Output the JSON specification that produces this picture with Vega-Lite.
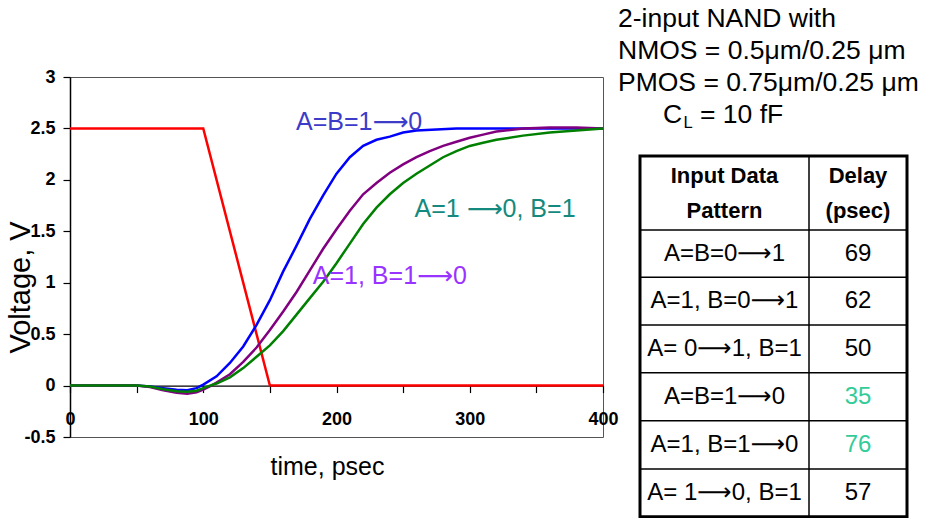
{
  "$schema": "https://vega.github.io/schema/vega-lite/v6.json",
  "width": 533,
  "height": 360,
  "autosize": {"type": "none"},
  "padding": {"left": 70, "top": 77, "right": 323, "bottom": 81},
  "background": "white",
  "config": {
    "font": "Liberation Sans",
    "view": {"stroke": "#555555", "strokeWidth": 1}
  },
  "datasets": {
    "curves": [
      {"s": "input", "t": 0, "v": 2.5}, {"s": "input", "t": 100, "v": 2.5}, {"s": "input", "t": 150, "v": 0}, {"s": "input", "t": 400, "v": 0},
      {"s": "A=B=1→0", "t": 0, "v": 0}, {"s": "A=B=1→0", "t": 50, "v": 0}, {"s": "A=B=1→0", "t": 60, "v": -0.01}, {"s": "A=B=1→0", "t": 70, "v": -0.025}, {"s": "A=B=1→0", "t": 80, "v": -0.04}, {"s": "A=B=1→0", "t": 88, "v": -0.045}, {"s": "A=B=1→0", "t": 95, "v": -0.025}, {"s": "A=B=1→0", "t": 100, "v": 0.01}, {"s": "A=B=1→0", "t": 110, "v": 0.09}, {"s": "A=B=1→0", "t": 120, "v": 0.22}, {"s": "A=B=1→0", "t": 130, "v": 0.38}, {"s": "A=B=1→0", "t": 140, "v": 0.59}, {"s": "A=B=1→0", "t": 150, "v": 0.83}, {"s": "A=B=1→0", "t": 160, "v": 1.11}, {"s": "A=B=1→0", "t": 170, "v": 1.36}, {"s": "A=B=1→0", "t": 180, "v": 1.62}, {"s": "A=B=1→0", "t": 190, "v": 1.85}, {"s": "A=B=1→0", "t": 200, "v": 2.06}, {"s": "A=B=1→0", "t": 210, "v": 2.22}, {"s": "A=B=1→0", "t": 220, "v": 2.33}, {"s": "A=B=1→0", "t": 230, "v": 2.39}, {"s": "A=B=1→0", "t": 240, "v": 2.42}, {"s": "A=B=1→0", "t": 250, "v": 2.46}, {"s": "A=B=1→0", "t": 260, "v": 2.48}, {"s": "A=B=1→0", "t": 275, "v": 2.49}, {"s": "A=B=1→0", "t": 290, "v": 2.5}, {"s": "A=B=1→0", "t": 400, "v": 2.5},
      {"s": "A=1, B=1→0", "t": 0, "v": 0}, {"s": "A=1, B=1→0", "t": 50, "v": 0}, {"s": "A=1, B=1→0", "t": 60, "v": -0.015}, {"s": "A=1, B=1→0", "t": 70, "v": -0.045}, {"s": "A=1, B=1→0", "t": 80, "v": -0.07}, {"s": "A=1, B=1→0", "t": 88, "v": -0.08}, {"s": "A=1, B=1→0", "t": 95, "v": -0.065}, {"s": "A=1, B=1→0", "t": 100, "v": -0.04}, {"s": "A=1, B=1→0", "t": 106, "v": 0}, {"s": "A=1, B=1→0", "t": 110, "v": 0.03}, {"s": "A=1, B=1→0", "t": 120, "v": 0.11}, {"s": "A=1, B=1→0", "t": 130, "v": 0.23}, {"s": "A=1, B=1→0", "t": 140, "v": 0.37}, {"s": "A=1, B=1→0", "t": 150, "v": 0.54}, {"s": "A=1, B=1→0", "t": 160, "v": 0.72}, {"s": "A=1, B=1→0", "t": 170, "v": 0.91}, {"s": "A=1, B=1→0", "t": 180, "v": 1.12}, {"s": "A=1, B=1→0", "t": 190, "v": 1.33}, {"s": "A=1, B=1→0", "t": 200, "v": 1.52}, {"s": "A=1, B=1→0", "t": 210, "v": 1.7}, {"s": "A=1, B=1→0", "t": 220, "v": 1.86}, {"s": "A=1, B=1→0", "t": 230, "v": 1.97}, {"s": "A=1, B=1→0", "t": 240, "v": 2.07}, {"s": "A=1, B=1→0", "t": 250, "v": 2.15}, {"s": "A=1, B=1→0", "t": 260, "v": 2.22}, {"s": "A=1, B=1→0", "t": 270, "v": 2.28}, {"s": "A=1, B=1→0", "t": 280, "v": 2.33}, {"s": "A=1, B=1→0", "t": 290, "v": 2.37}, {"s": "A=1, B=1→0", "t": 300, "v": 2.41}, {"s": "A=1, B=1→0", "t": 310, "v": 2.44}, {"s": "A=1, B=1→0", "t": 320, "v": 2.47}, {"s": "A=1, B=1→0", "t": 340, "v": 2.5}, {"s": "A=1, B=1→0", "t": 360, "v": 2.51}, {"s": "A=1, B=1→0", "t": 380, "v": 2.51}, {"s": "A=1, B=1→0", "t": 400, "v": 2.5},
      {"s": "A=1→0, B=1", "t": 0, "v": 0}, {"s": "A=1→0, B=1", "t": 50, "v": 0}, {"s": "A=1→0, B=1", "t": 60, "v": -0.01}, {"s": "A=1→0, B=1", "t": 70, "v": -0.035}, {"s": "A=1→0, B=1", "t": 80, "v": -0.055}, {"s": "A=1→0, B=1", "t": 88, "v": -0.06}, {"s": "A=1→0, B=1", "t": 95, "v": -0.05}, {"s": "A=1→0, B=1", "t": 100, "v": -0.025}, {"s": "A=1→0, B=1", "t": 105, "v": 0}, {"s": "A=1→0, B=1", "t": 110, "v": 0.02}, {"s": "A=1→0, B=1", "t": 120, "v": 0.08}, {"s": "A=1→0, B=1", "t": 130, "v": 0.17}, {"s": "A=1→0, B=1", "t": 140, "v": 0.28}, {"s": "A=1→0, B=1", "t": 150, "v": 0.39}, {"s": "A=1→0, B=1", "t": 160, "v": 0.53}, {"s": "A=1→0, B=1", "t": 170, "v": 0.69}, {"s": "A=1→0, B=1", "t": 180, "v": 0.85}, {"s": "A=1→0, B=1", "t": 190, "v": 1.01}, {"s": "A=1→0, B=1", "t": 200, "v": 1.19}, {"s": "A=1→0, B=1", "t": 210, "v": 1.38}, {"s": "A=1→0, B=1", "t": 220, "v": 1.57}, {"s": "A=1→0, B=1", "t": 230, "v": 1.73}, {"s": "A=1→0, B=1", "t": 240, "v": 1.86}, {"s": "A=1→0, B=1", "t": 250, "v": 1.97}, {"s": "A=1→0, B=1", "t": 260, "v": 2.06}, {"s": "A=1→0, B=1", "t": 270, "v": 2.14}, {"s": "A=1→0, B=1", "t": 280, "v": 2.22}, {"s": "A=1→0, B=1", "t": 290, "v": 2.28}, {"s": "A=1→0, B=1", "t": 300, "v": 2.33}, {"s": "A=1→0, B=1", "t": 310, "v": 2.36}, {"s": "A=1→0, B=1", "t": 320, "v": 2.39}, {"s": "A=1→0, B=1", "t": 340, "v": 2.43}, {"s": "A=1→0, B=1", "t": 360, "v": 2.46}, {"s": "A=1→0, B=1", "t": 380, "v": 2.48}, {"s": "A=1→0, B=1", "t": 400, "v": 2.5}
    ],
    "labels": [
      {"lbl": "A=B=1⟶0", "t": 217, "v": 2.56},
      {"lbl": "A=1 ⟶0, B=1", "t": 319, "v": 1.72},
      {"lbl": "A=1, B=1⟶0", "t": 240, "v": 1.07}
    ],
    "tableRows": [
      {"row": 1, "pattern": "A=B=0⟶1", "delay": "69", "hl": "no"},
      {"row": 2, "pattern": "A=1, B=0⟶1", "delay": "62", "hl": "no"},
      {"row": 3, "pattern": "A= 0⟶1, B=1", "delay": "50", "hl": "no"},
      {"row": 4, "pattern": "A=B=1⟶0", "delay": "35", "hl": "yes"},
      {"row": 5, "pattern": "A=1, B=1⟶0", "delay": "76", "hl": "yes"},
      {"row": 6, "pattern": "A= 1⟶0, B=1", "delay": "57", "hl": "no"}
    ],
    "rowBounds": [{"b": 0.5}, {"b": 1.5}, {"b": 2.5}, {"b": 3.5}, {"b": 4.5}, {"b": 5.5}],
    "header": [{"p": "Input Data\nPattern", "d": "Delay\n(psec)"}],
    "titleLines": [
      {"line": 0, "txt": "2-input NAND with"},
      {"line": 1, "txt": "NMOS = 0.5μm/0.25 μm"},
      {"line": 2, "txt": "PMOS = 0.75μm/0.25 μm"}
    ],
    "capLine": [{"line": 3, "c": "C", "sub": "L", "rest": "= 10 fF"}]
  },
  "layer": [
    {
      "layer": [
        {
          "data": {"name": "curves"},
          "mark": {"type": "line", "strokeWidth": 2.5, "interpolate": "linear"},
          "encoding": {
            "x": {
              "field": "t", "type": "quantitative",
              "scale": {"domain": [0, 400], "nice": false, "zero": false},
              "axis": {
                "values": [0, 50, 100, 150, 200, 250, 300, 350, 400],
                "labelExpr": "datum.value % 100 === 0 ? toString(datum.value) : ''",
                "offset": -51.43,
                "grid": false,
                "domainColor": "black", "domainWidth": 1.2,
                "tickColor": "black", "tickSize": 7, "tickWidth": 1.2,
                "labelFontWeight": "bold", "labelFontSize": 18, "labelColor": "black",
                "labelPadding": 18, "labelFlush": false, "labelOverlap": false, "labelBound": false,
                "title": "time, psec", "titleFontSize": 25, "titleFontWeight": "normal", "titleColor": "black",
                "titleX": 257, "titleY": 89, "titleBaseline": "alphabetic", "titleAlign": "center"
              }
            },
            "y": {
              "field": "v", "type": "quantitative",
              "scale": {"domain": [-0.5, 3], "nice": false, "zero": false},
              "axis": {
                "values": [-0.5, 0, 0.5, 1, 1.5, 2, 2.5, 3],
                "labelExpr": "toString(datum.value)",
                "grid": false,
                "domainColor": "black", "domainWidth": 1.5,
                "tickColor": "black", "tickSize": 7, "tickWidth": 1.2,
                "labelFontWeight": "bold", "labelFontSize": 18, "labelColor": "black",
                "labelPadding": 8, "labelOverlap": false, "labelBound": false,
                "title": "Voltage, V", "titleFontSize": 29, "titleFontWeight": "normal", "titleColor": "black",
                "titleAngle": 270, "titleX": -41, "titleY": 210, "titleBaseline": "alphabetic", "titleAlign": "center"
              }
            },
            "color": {
              "field": "s", "type": "nominal", "legend": null,
              "scale": {"domain": ["A=B=1→0", "A=1, B=1→0", "A=1→0, B=1", "input"], "range": ["#0000ff", "#800080", "#008000", "#ff0000"]}
            }
          }
        },
        {
          "data": {"name": "labels"},
          "mark": {"type": "text", "font": "Liberation Sans, DejaVu Sans", "fontSize": 25, "align": "center", "baseline": "middle"},
          "encoding": {
            "x": {"field": "t", "type": "quantitative"},
            "y": {"field": "v", "type": "quantitative"},
            "text": {"field": "lbl"},
            "color": {
              "field": "lbl", "type": "nominal", "legend": null,
              "scale": {"domain": ["A=B=1⟶0", "A=1 ⟶0, B=1", "A=1, B=1⟶0"], "range": ["#3c3cc8", "#148a7e", "#9933ff"]}
            }
          }
        }
      ],
      "resolve": {"scale": {"color": "independent"}}
    },
    {
      "layer": [
        {
          "data": {"name": "rowBounds"},
          "mark": {"type": "rule", "stroke": "black", "strokeWidth": 1.5},
          "encoding": {
            "y": {"field": "b", "type": "quantitative", "axis": null, "scale": {"domain": [-0.5, 0.5, 1.5, 2.5, 3.5, 4.5, 5.5, 6.5], "range": [79, 153, 200.3, 248, 295.7, 343.7, 392, 439.7], "nice": false, "zero": false}},
            "x": {"datum": 0, "type": "quantitative", "axis": null, "scale": {"domain": [0, 1, 2], "range": [570, 739, 837], "nice": false, "zero": false}},
            "x2": {"datum": 2}
          }
        },
        {
          "data": {"values": [{}]},
          "mark": {"type": "rule", "stroke": "black", "strokeWidth": 1.5},
          "encoding": {
            "x": {"datum": 1, "type": "quantitative", "axis": null},
            "y": {"datum": -0.5, "type": "quantitative", "axis": null},
            "y2": {"datum": 6.5}
          }
        },
        {
          "data": {"values": [{}]},
          "mark": {"type": "rect", "filled": false, "stroke": "black", "strokeWidth": 3},
          "encoding": {
            "x": {"datum": 0, "type": "quantitative", "axis": null},
            "x2": {"datum": 2},
            "y": {"datum": -0.5, "type": "quantitative", "axis": null},
            "y2": {"datum": 6.5}
          }
        },
        {
          "data": {"name": "tableRows"},
          "mark": {"type": "text", "font": "Liberation Sans, DejaVu Sans", "fontSize": 24, "align": "center", "baseline": "middle", "color": "black"},
          "encoding": {
            "x": {"datum": 0.5, "type": "quantitative", "axis": null},
            "y": {"field": "row", "type": "quantitative", "axis": null},
            "text": {"field": "pattern"}
          }
        },
        {
          "data": {"name": "tableRows"},
          "mark": {"type": "text", "fontSize": 24, "align": "center", "baseline": "middle"},
          "encoding": {
            "x": {"datum": 1.5, "type": "quantitative", "axis": null},
            "y": {"field": "row", "type": "quantitative", "axis": null},
            "text": {"field": "delay"},
            "color": {"field": "hl", "type": "nominal", "legend": null, "scale": {"domain": ["no", "yes"], "range": ["#000000", "#33cc99"]}}
          }
        },
        {
          "data": {"name": "header"},
          "mark": {"type": "text", "fontSize": 22, "fontWeight": "bold", "align": "center", "baseline": "middle", "lineBreak": "\n", "lineHeight": 35, "dy": -17.5, "color": "black"},
          "encoding": {
            "x": {"datum": 0.5, "type": "quantitative", "axis": null},
            "y": {"datum": 0, "type": "quantitative", "axis": null},
            "text": {"field": "p"}
          }
        },
        {
          "data": {"name": "header"},
          "mark": {"type": "text", "fontSize": 22, "fontWeight": "bold", "align": "center", "baseline": "middle", "lineBreak": "\n", "lineHeight": 35, "dy": -17.5, "color": "black"},
          "encoding": {
            "x": {"datum": 1.5, "type": "quantitative", "axis": null},
            "y": {"datum": 0, "type": "quantitative", "axis": null},
            "text": {"field": "d"}
          }
        }
      ],
      "resolve": {"scale": {"color": "independent"}}
    },
    {
      "layer": [
        {
          "data": {"name": "titleLines"},
          "mark": {"type": "text", "fontSize": 26.5, "align": "left", "baseline": "alphabetic", "color": "black"},
          "encoding": {
            "x": {"datum": 0, "type": "quantitative", "axis": null, "scale": {"domain": [0, 1], "range": [548, 600], "nice": false, "zero": false}},
            "y": {"field": "line", "type": "quantitative", "axis": null, "scale": {"domain": [0, 3], "range": [-50, 46], "nice": false, "zero": false}},
            "text": {"field": "txt"}
          }
        },
        {
          "data": {"name": "capLine"},
          "mark": {"type": "text", "fontSize": 26.5, "align": "left", "baseline": "alphabetic", "color": "black", "dx": 45},
          "encoding": {
            "x": {"datum": 0, "type": "quantitative", "axis": null},
            "y": {"field": "line", "type": "quantitative", "axis": null},
            "text": {"field": "c"}
          }
        },
        {
          "data": {"name": "capLine"},
          "mark": {"type": "text", "fontSize": 16.5, "align": "left", "baseline": "alphabetic", "color": "black", "dx": 65.5, "dy": 5},
          "encoding": {
            "x": {"datum": 0, "type": "quantitative", "axis": null},
            "y": {"field": "line", "type": "quantitative", "axis": null},
            "text": {"field": "sub"}
          }
        },
        {
          "data": {"name": "capLine"},
          "mark": {"type": "text", "fontSize": 26.5, "align": "left", "baseline": "alphabetic", "color": "black", "dx": 82},
          "encoding": {
            "x": {"datum": 0, "type": "quantitative", "axis": null},
            "y": {"field": "line", "type": "quantitative", "axis": null},
            "text": {"field": "rest"}
          }
        }
      ]
    }
  ],
  "resolve": {"scale": {"x": "independent", "y": "independent", "color": "independent"}}
}
